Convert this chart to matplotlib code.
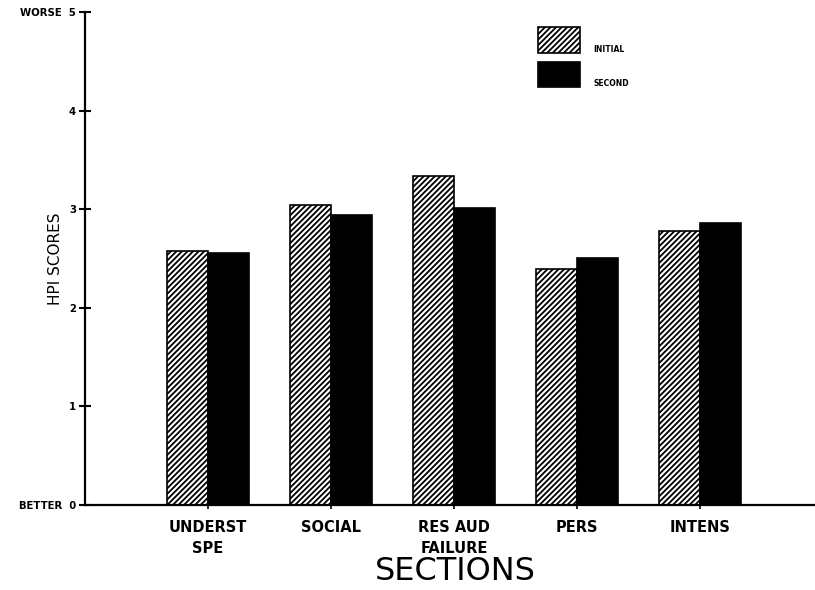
import matplotlib
matplotlib.use("Agg")
import matplotlib.pyplot as plt
from matplotlib.patches import Rectangle
import numpy as np

categories = ["UNDERST\nSPE", "SOCIAL", "RES AUD\nFAILURE", "PERS", "INTENS"]
series_names = ["INITIAL", "SECOND"]
initial = [2.58, 3.04, 3.34, 2.39, 2.78]
second = [2.56, 2.94, 3.01, 2.50, 2.86]
ytick_values = [0, 1, 2, 3, 4, 5]
ytick_labels = ["BETTER  0", "1", "2", "3", "4", "WORSE  5"]

plt.rcParams['hatch.linewidth'] = 1.3
plt.rcParams['hatch.color'] = 'black'

fig = plt.figure(figsize=(8.15, 5.9), dpi=100)
ax = fig.add_axes([85/815, 85/590, 730/815, 493/590])

x = np.arange(1, len(categories) + 1)
w = 0.335
ax.bar(x - w/2, initial, width=w, facecolor='white', edgecolor='black',
       hatch='//////', linewidth=1.2)
ax.bar(x + w/2, second, width=w, facecolor='black', edgecolor='black',
       linewidth=1.2)

ax.set_xlim(0, 730/123)
ax.set_ylim(0, 5)

for s in ['top', 'right']:
    ax.spines[s].set_visible(False)
ax.spines['left'].set_linewidth(1.6)
ax.spines['bottom'].set_linewidth(1.6)

ax.set_yticks(ytick_values)
ax.set_yticklabels(ytick_labels, fontsize=7.3, fontweight='heavy')
ax.tick_params(axis='y', direction='inout', length=9, width=1.5, pad=2)

ax.set_xticks(x)
ax.set_xticklabels(categories, fontsize=10.5, fontweight='bold', linespacing=1.5)
ax.tick_params(axis='x', direction='out', length=3, width=1.2, pad=8)

ax.set_ylabel("HPI SCORES", fontsize=11, family=['Liberation Sans Narrow', 'DejaVu Sans'])
ax.yaxis.set_label_coords(-22/730, 0.5)

fig.text(455/815, 1 - 571/590, "SECTIONS", fontsize=23, fontweight='normal',
         ha='center', va='center')

# legend drawn in figure pixel coords
def fx(px):
    return px / 815
def fy(py):
    return 1 - py / 590

fig.patches.append(Rectangle((fx(538), fy(53)), fx(42), 26/590, transform=fig.transFigure,
                             facecolor='white', edgecolor='black', hatch='//////', linewidth=1.2))
fig.patches.append(Rectangle((fx(538), fy(87)), fx(42), 25/590, transform=fig.transFigure,
                             facecolor='black', edgecolor='black', linewidth=1.2))
fig.text(fx(593), fy(50), series_names[0], fontsize=5.5, fontweight='bold', va='center', ha='left')
fig.text(fx(593), fy(84), series_names[1], fontsize=5.5, fontweight='bold', va='center', ha='left')

fig.savefig("out.png", dpi=100)
